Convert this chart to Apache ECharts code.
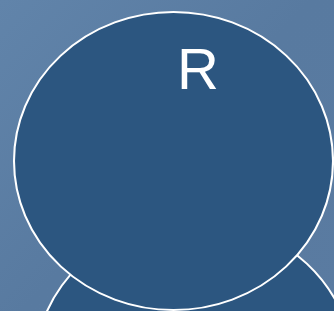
<!DOCTYPE html>
<html>
<head>
<meta charset="utf-8">
<script src="https://cdn.jsdelivr.net/npm/echarts@6/dist/echarts.min.js"></script>
<style>
html, body { margin: 0; padding: 0; }
#container { width: 334px; height: 311px; }
</style>
</head>
<body>
<div id="container"></div>
<script>
// sets, drawn back to front
var setNames = ['S', 'R'];
var setLabels = ['', 'R'];
var centerX = [194, 173.5];
var centerY = [369, 161];
var radiusX = [159.5, 159.5];
var radiusY = [149, 149];

var dom = document.getElementById('container');
var myChart = echarts.init(dom);

var data = setNames.map(function (n, i) {
    return {
        name: n,
        value: [centerX[i], centerY[i]],
        symbolSize: [radiusX[i] * 2, radiusY[i] * 2],
        label: {
            show: setLabels[i] !== '',
            formatter: setLabels[i]
        }
    };
});

var option = {
    animation: false,
    backgroundColor: {
        type: 'linear', x: 0, y: 0, x2: 1, y2: 1,
        colorStops: [
            { offset: 0, color: '#6184aa' },
            { offset: 0.5, color: '#587aa0' },
            { offset: 1, color: '#5a7ba1' }
        ]
    },
    grid: { left: 0, right: 0, top: 0, bottom: 0 },
    xAxis: { type: 'value', min: 0, max: 334, show: false },
    yAxis: { type: 'value', min: 0, max: 311, inverse: true, show: false },
    series: [{
        type: 'scatter',
        symbol: 'circle',
        clip: false,
        data: data,
        itemStyle: {
            color: '#2c5680',
            borderColor: '#ffffff',
            borderWidth: 2,
            opacity: 1
        },
        label: {
            position: 'inside',
            offset: [24.5, -88],
            color: '#ffffff',
            fontFamily: 'Liberation Sans',
            fontSize: 58
        },
        emphasis: { disabled: true }
    }]
};

myChart.setOption(option, true);
</script>
</body>
</html>
